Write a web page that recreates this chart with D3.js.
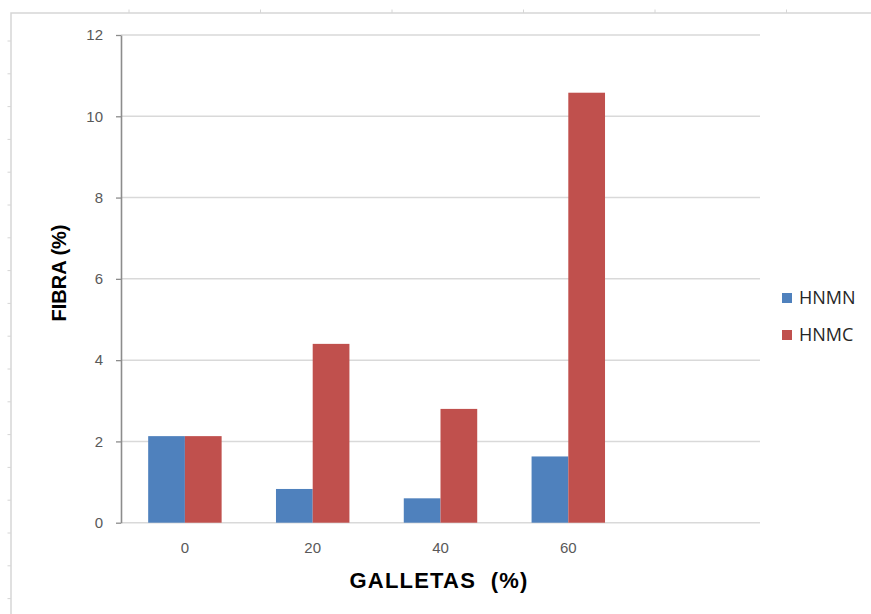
<!DOCTYPE html>
<html>
<head>
<meta charset="utf-8">
<script src="https://cdn.jsdelivr.net/npm/d3@7"></script>
<style>
  html, body { margin: 0; padding: 0; background: #ffffff; }
  svg { display: block; }
</style>
</head>
<body>
<svg id="chart" width="871" height="614"></svg>
<script>
// Fibre content (%) of biscuits by flour substitution level
const categories = ["0", "20", "40", "60", ""];
const seriesNames = ["HNMN", "HNMC"];
const hnmn = [2.13, 0.83, 0.60, 1.63, null];
const hnmc = [2.13, 4.40, 2.80, 10.58, null];
const yTicks = [0, 2, 4, 6, 8, 10, 12];
const colors = { HNMN: "#4f81bd", HNMC: "#c0504d" };

const svg = d3.select("#chart");
const W = 871, H = 614;
const plot = { left: 121, right: 760, top: 35, bottom: 522.7 };

// Sheet frame with ruler marks
const frame = svg.append("g").attr("stroke", "#d6d6d6").attr("fill", "none");
frame.append("path").attr("d", `M11,${H} V13 H${W}`).attr("stroke-width", 1.5);
frame.selectAll("line.top").data(d3.range(129, W, 131.5)).join("line")
  .attr("x1", d => d).attr("x2", d => d).attr("y1", 9.5).attr("y2", 13);
frame.selectAll("line.left").data(d3.range(41, H, 32.8)).join("line")
  .attr("x1", 7.5).attr("x2", 11).attr("y1", d => d).attr("y2", d => d);

const x = d3.scaleBand().domain(categories).range([plot.left, plot.right]);
const gapWidth = 0.74;
const groupW = x.bandwidth() / (1 + gapWidth);
const xs = d3.scaleBand().domain(seriesNames)
  .range([(x.bandwidth() - groupW) / 2, (x.bandwidth() + groupW) / 2]);
const y = d3.scaleLinear().domain([0, 12]).range([plot.bottom, plot.top]);

// Gridlines
svg.append("g").selectAll("line").data(yTicks).join("line")
  .attr("x1", plot.left).attr("x2", plot.right)
  .attr("y1", d => y(d)).attr("y2", d => y(d))
  .attr("stroke", "#d9d9d9").attr("stroke-width", 1.5);

// Y axis
const yAxis = svg.append("g").attr("transform", `translate(${plot.left},0)`)
  .call(d3.axisLeft(y).tickValues(yTicks).tickSize(5).tickPadding(13).tickSizeOuter(0));
yAxis.select(".domain").attr("stroke", "#8c8c8c").attr("stroke-width", 1.6);
yAxis.selectAll(".tick line").attr("stroke", "#8c8c8c").attr("stroke-width", 1.3);
yAxis.selectAll(".tick text")
  .attr("font-family", "Liberation Sans, Arial, sans-serif")
  .attr("font-size", 15).attr("fill", "#595959");

// X axis labels
const xAxis = svg.append("g").attr("transform", `translate(0,${plot.bottom})`)
  .call(d3.axisBottom(x).tickSize(0).tickPadding(20));
xAxis.select(".domain").remove();
xAxis.selectAll(".tick text")
  .attr("font-family", "Liberation Sans, Arial, sans-serif")
  .attr("font-size", 15).attr("fill", "#595959");

// Bars
const rows = categories.map((c, i) => ({ cat: c, HNMN: hnmn[i], HNMC: hnmc[i] }));
const groups = svg.append("g").selectAll("g").data(rows).join("g")
  .attr("transform", d => `translate(${x(d.cat)},0)`);
groups.selectAll("rect")
  .data(d => seriesNames.filter(s => d[s] != null).map(s => ({ s, v: d[s] })))
  .join("rect")
  .attr("x", d => xs(d.s)).attr("width", xs.bandwidth())
  .attr("y", d => y(d.v)).attr("height", d => y(0) - y(d.v))
  .attr("fill", d => colors[d.s]);

// Legend
const legend = svg.append("g").attr("transform", "translate(782,293)");
const li = legend.selectAll("g").data(seriesNames).join("g")
  .attr("transform", (d, i) => `translate(0,${i * 37})`);
li.append("rect").attr("width", 10).attr("height", 10).attr("fill", d => colors[d]);
li.append("text").attr("x", 17).attr("y", 5).attr("dy", "0.35em")
  .attr("font-family", "Open Sans, sans-serif").attr("font-size", 18)
  .attr("fill", "#262626").text(d => d);

// Axis titles
svg.append("text")
  .attr("transform", "translate(66,273) rotate(-90)")
  .attr("text-anchor", "middle")
  .attr("font-family", "Liberation Sans, Arial, sans-serif")
  .attr("font-weight", "bold").attr("font-size", 20).attr("fill", "#000")
  .text("FIBRA (%)");
svg.append("text")
  .attr("x", 439).attr("y", 588)
  .attr("text-anchor", "middle")
  .attr("font-family", "Liberation Sans, Arial, sans-serif")
  .attr("font-weight", "bold").attr("font-size", 22).attr("letter-spacing", 1.2)
  .attr("fill", "#000")
  .attr("xml:space", "preserve")
  .text("GALLETAS  (%)");
</script>
</body>
</html>
